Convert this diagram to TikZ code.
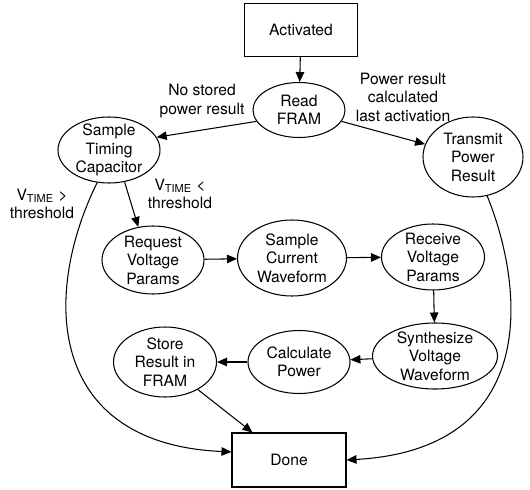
\documentclass[tikz,border=0pt]{standalone}
\usepackage{fontspec}
\setmainfont{TeX Gyre Heros}
\usetikzlibrary{shapes.geometric}
\usetikzlibrary{arrows.meta}
\tikzset{>={Triangle[length=2mm, width=1.7mm]}}
\tikzset{stateoval/.style={draw, ellipse, align=center, inner xsep=0pt, inner ysep=-5pt}}
\tikzset{termbox/.style={draw, rectangle}}
\tikzset{lbl/.style={align=center}}

\begin{document}
\begin{tikzpicture}[font=\fontsize{8.9}{10.5}\selectfont, line width=.6pt]
    \useasboundingbox (0, 0) rectangle (10.6, 9.78);
    \node[termbox, minimum width=2.26cm, minimum height=1.06cm](act) at (6.02, 9.18) {Activated};
    \node[stateoval, minimum width=1.84cm, minimum height=1.1cm](read) at (5.98, 7.58) {Read\\FRAM};
    \node[stateoval, minimum width=2.04cm, minimum height=1.32cm](timing) at (2.18, 6.78) {Sample\\Timing\\Capacitor};
    \node[stateoval, minimum width=2cm, minimum height=1.6cm](transmit) at (9.46, 6.64) {Transmit\\Power\\Result};
    \node[stateoval, minimum width=2.04cm, minimum height=1.36cm](request) at (3.06, 4.58) {Request\\Voltage\\Params};
    \node[stateoval, minimum width=2.18cm, minimum height=1.52cm](current) at (5.84, 4.62) {Sample\\Current\\Waveform};
    \node[stateoval, minimum width=2.06cm, minimum height=1.32cm](receive) at (8.66, 4.64) {Receive\\Voltage\\Params};
    \node[stateoval, minimum width=2.5cm, minimum height=1.32cm](synth) at (8.7, 2.66) {Synthesize\\Voltage\\Waveform};
    \node[stateoval, minimum width=2.04cm, minimum height=1.26cm](calc) at (5.98, 2.54) {Calculate\\Power};
    \node[stateoval, minimum width=2.06cm, minimum height=1.4cm](store) at (3.3, 2.54) {Store\\Result in\\FRAM};
    \node[termbox, minimum width=2.28cm, minimum height=1.08cm](done) at (5.78, .58) {Done};
    % branch labels
    \node[lbl](nostored) at (4.04, 7.76) {No stored\\power result};
    \node[lbl](lastact) at (8.06, 7.84) {Power result\\calculated\\last activation};
    \node[lbl](above) at (.84, 5.7) {V\textsubscript{TIME} >\\threshold};
    \node[lbl](below) at (3.6, 5.9) {V\textsubscript{TIME} <\\threshold};
    \draw[->](act)--(read);
    \draw[->](read.195)--(timing.15);
    \draw[->](read.-15)--(transmit.165);
    \draw[->](timing.-64)--(request.114);
    \draw[->](timing.-110) .. controls (.8, 3.8) and (1, .9) .. (done.172);
    \draw[->](transmit.-70) .. controls (10.5, 4) and (10.8, .8) .. (done.east);
    \draw[->](request)--(current);
    \draw[->](current)--(receive);
    \draw[->](receive)--(synth);
    \draw[->](synth)--(calc);
    \draw[->](calc)--(store);
    \draw[->](store.-40)--(done.143);
\end{tikzpicture}
\end{document}
